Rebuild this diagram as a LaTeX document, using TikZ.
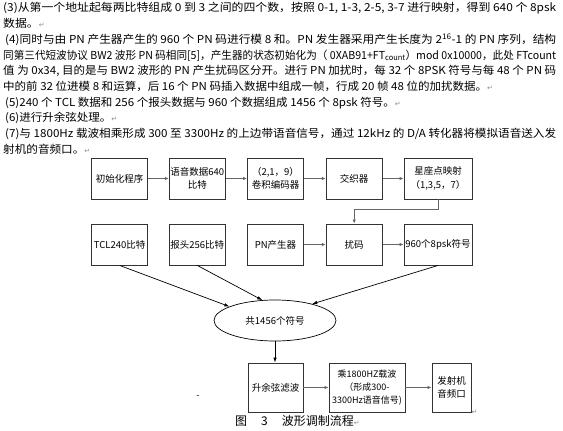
\documentclass[tikz,border=0pt]{standalone}
\usepackage{fontspec}
\setmainfont{Noto Sans CJK SC}
\newfontfamily\symf{DejaVu Sans}
\usetikzlibrary{arrows.meta,shapes.geometric}
\newsavebox\fitbox
\newcommand\fitline[2]{\sbox\fitbox{#2}\pgfmathsetmacro\fitsx{#1/\the\wd\fitbox}\xdef\lastsx{\fitsx}\scalebox{\fitsx}[1]{\usebox\fitbox}}
\newcommand\retmark{{\symf\color{black!45}\fontsize{7}{7}\selectfont ↵}}
\begin{document}
\begin{tikzpicture}[x=1pt,y=-1pt,
  txt/.style={anchor=base west,inner sep=0pt,font=\fontsize{11}{11}\selectfont},
  box/.style={draw=black!80,line width=0.9pt,minimum width=56pt,minimum height=41pt,inner sep=0pt,align=center,font=\fontsize{9.5}{13.5}\selectfont},
  link/.style={draw=black!60,line width=1.3pt,-{Latex[length=4pt,width=3.5pt]}},
  thinarrow/.style={draw=black,line width=0.7pt,-{Latex[length=5pt,width=3.5pt]}}]
\useasboundingbox (0,0) rectangle (563,431);
\fill[white] (0,0) rectangle (563,431);
% paragraph text
\node[txt] (l1) at (3,12) {\fitline{553}{(3)从第一个地址起每两比特组成 0 到 3 之间的四个数，按照 0-1, 1-3, 2-5, 3-7 进行映射，得到 640 个 8psk}};
\node[txt] (l2) at (3,27.7) {\scalebox{\lastsx}[1]{数据。}\retmark};
\node[txt] (l3) at (5,43.4) {\fitline{551}{(4)同时与由 PN 产生器产生的 960 个 PN 码进行模 8 和。PN 发生器采用产生长度为 2\textsuperscript{16}-1 的 PN 序列，结构}};
\node[txt] (l4) at (3,59.1) {\fitline{553}{同第三代短波协议 BW2 波形 PN 码相同[5]，产生器的状态初始化为（ 0XAB91+FT\textsubscript{count}）mod 0x10000，此处 FTcount}};
\node[txt] (l5) at (3,74.8) {\fitline{553}{值 为 0x34, 目的是与 BW2 波形的 PN 产生扰码区分开。进行 PN 加扰时，每 32 个 8PSK 符号与每 48 个 PN 码}};
\node[txt] (l6) at (3,90.5) {\scalebox{\lastsx}[1]{中的前 32 位进模 8 和运算，后 16 个 PN 码插入数据中组成一帧，行成 20 帧 48 位的加扰数据。}\retmark};
\node[txt] (l7) at (5,106.2) {\scalebox{\lastsx}[1]{(5)240 个 TCL 数据和 256 个报头数据与 960 个数据组成 1456 个 8psk 符号。}\retmark};
\node[txt] (l8) at (5,121.9) {\scalebox{\lastsx}[1]{(6)进行升余弦处理。}\retmark};
\node[txt] (l9) at (5,137.6) {\fitline{551}{(7)与 1800Hz 载波相乘形成 300 至 3300Hz 的上边带语音信号，通过 12kHz 的 D/A 转化器将模拟语音送入发}};
\node[txt] (l10) at (3,153.3) {\scalebox{\lastsx}[1]{射机的音频口。}\retmark};
% top row
\node[box] (a1) at (119.7,178.5) {初始化程序};
\node[box] (a2) at (197.3,178.5) {语音数据640\\比特};
\node[box] (a3) at (275.5,178.5) {（2,1，9）\\卷积编码器};
\node[box] (a4) at (354.2,178.5) {交织器};
\node[box,minimum width=68pt] (a5) at (438,178.5) {星座点映射\\（1,3,5，7）};
% second row
\node[box] (b1) at (119.7,244.5) {TCL240比特};
\node[box] (b2) at (197.3,244.5) {报头256比特};
\node[box] (b3) at (275.5,244.5) {PN产生器};
\node[box] (b4) at (354.2,244.5) {扰码};
\node[box,minimum width=68pt] (b5) at (438,244.5) {960个8psk符号};
% ellipse
\node[draw=black,ellipse,minimum width=122pt,minimum height=41pt,inner sep=0pt,line width=0.7pt,font=\fontsize{9.5}{11}\selectfont] (e) at (275,320.5) {共1456个符号};
% bottom row
\node[box,minimum height=49pt,minimum width=55pt] (c1) at (275.5,387.5) {升余弦滤波};
\node[box,minimum height=49pt,minimum width=76pt,font=\fontsize{9}{13}\selectfont] (c2) at (367,387.5) {乘1800HZ载波\\（形成300-\\3300Hz语音信号)};
\node[box,minimum height=49pt,minimum width=39pt] (c3) at (451.5,387.5) {发射机\\音频口};
\node[anchor=west,inner sep=0pt] (cr) at (c3.south east) {\retmark};
% caption and stray dash
\node[anchor=base west,inner sep=0pt,font=\fontsize{12}{12}\selectfont] (cap) at (235,425) {图\hspace{14pt}3\hspace{14pt}波形调制流程\retmark};
\node[inner sep=0pt,font=\fontsize{9}{9}\selectfont] (dash) at (198,397) {-};
% connectors
\draw[link] (a1) -- (a2);
\draw[link] (a2) -- (a3);
\draw[link] (a3) -- (a4);
\draw[link] (a4) -- (a5);
\draw[link,line width=1pt] (a5.south) -- ++(0,10.5) -| (b4.north);
\draw[link] (b3) -- (b4);
\draw[link] (b4) -- (b5);
\draw[thinarrow] (b1.south) -- (e.163);
\draw[thinarrow] (b2.south) -- (e.122);
\draw[thinarrow] (b5.south) -- (e.24);
\draw[thinarrow] (e.south) -- (e.south |- c1.north);
\draw[link] (c1) -- (c2);
\draw[link] (c2) -- (c3);
\end{tikzpicture}
\end{document}
